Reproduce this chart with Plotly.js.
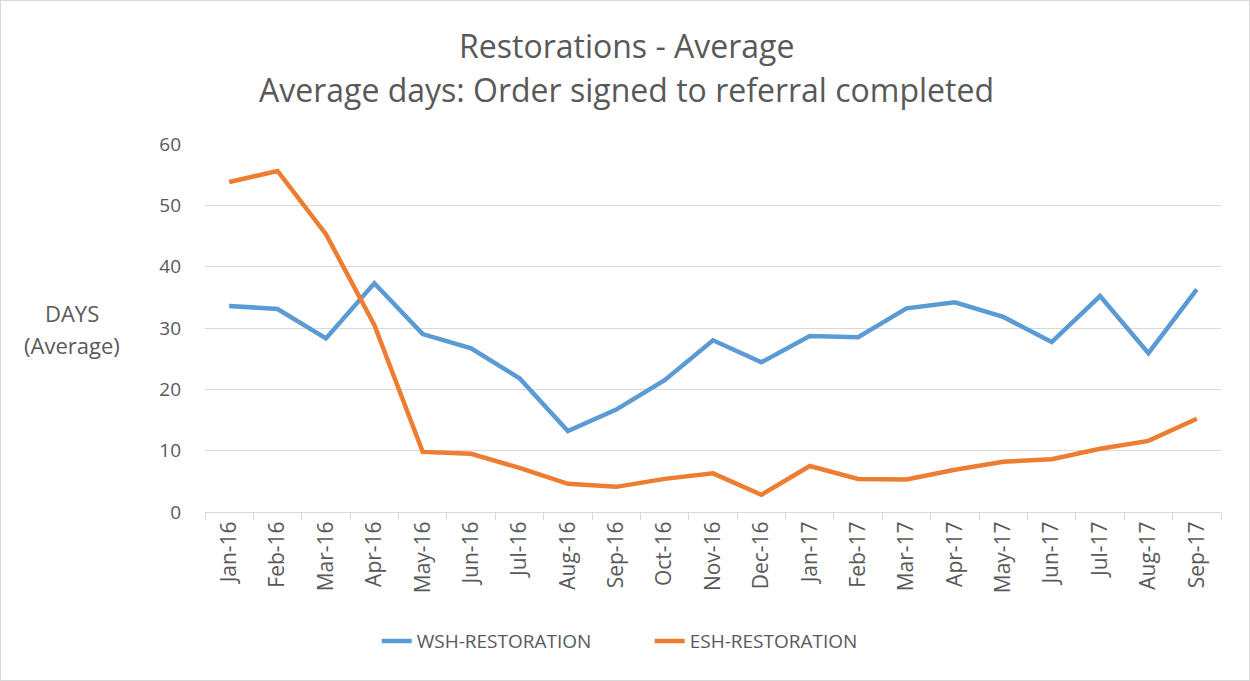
<!DOCTYPE html>
<html>
<head>
<meta charset="utf-8">
<script src="https://cdn.plot.ly/plotly-3.0.1.min.js"></script>
<style>
  html, body { margin: 0; padding: 0; background: #fff; }
  #chart { width: 1248px; height: 679px; border: 1px solid #d9d9d9; }
</style>
</head>
<body>
<div id="chart"></div>
<script>
const months = ["Jan-16","Feb-16","Mar-16","Apr-16","May-16","Jun-16","Jul-16","Aug-16","Sep-16","Oct-16","Nov-16","Dec-16",
                "Jan-17","Feb-17","Mar-17","Apr-17","May-17","Jun-17","Jul-17","Aug-17","Sep-17"];
const wshRestoration = [33.6,33.1,28.3,37.3,29.0,26.7,21.8,13.2,16.7,21.5,28.0,24.4,28.7,28.5,33.2,34.2,31.8,27.7,35.2,25.9,36.3];
const eshRestoration = [53.8,55.6,45.3,30.5,9.8,9.5,7.2,4.6,4.1,5.4,6.3,2.8,7.5,5.4,5.3,6.9,8.2,8.6,10.3,11.6,15.2];
const seriesNames = ["WSH-RESTORATION","ESH-RESTORATION"];
const titleLines = ["Restorations - Average","Average days: Order signed to referral completed"];
const yTitleLines = ["DAYS","(Average)"];

const FONT = "Open Sans, Calibri, sans-serif";
const TXT = "#595959";
const GRID = "#d9d9d9";

const traces = [
  {x: months, y: wshRestoration, name: seriesNames[0], type: "scatter", mode: "lines",
   line: {color: "#5B9BD5", width: 4.5, shape: "linear"}},
  {x: months, y: eshRestoration, name: seriesNames[1], type: "scatter", mode: "lines",
   line: {color: "#ED7D31", width: 4.5, shape: "linear"}}
];

const layout = {
  width: 1248, height: 679,
  margin: {l: 204, r: 28, t: 143, b: 168, pad: 0},
  paper_bgcolor: "#fff", plot_bgcolor: "#fff",
  font: {family: FONT, color: TXT, size: 16},
  xaxis: {type: "category", range: [-0.5, 20.5], tickangle: -90, tickson: "boundaries",
          ticks: "outside", ticklen: 7, tickcolor: GRID, tickwidth: 1,
          showline: true, linecolor: GRID, linewidth: 1, showgrid: false,
          tickfont: {family: FONT, size: 21, color: TXT}, fixedrange: true},
  yaxis: {range: [0, 60], dtick: 10, showgrid: true, gridcolor: GRID, gridwidth: 1,
          zeroline: false, showline: false, ticks: "", ticklabelstandoff: 23,
          tickfont: {family: FONT, size: 19, color: TXT}, fixedrange: true},
  showlegend: true,
  legend: {orientation: "h", x: 0.169, xanchor: "left", y: -0.351, yanchor: "middle",
           entrywidth: 228, entrywidthmode: "pixels",
           font: {family: FONT, size: 19, color: TXT}, tracegroupgap: 0},
  annotations: [
    {text: titleLines[0], xref: "paper", yref: "paper", x: 0.415, y: 1.269,
     xanchor: "center", yanchor: "middle", showarrow: false,
     font: {family: FONT, size: 32, color: TXT}},
    {text: titleLines[1], xref: "paper", yref: "paper", x: 0.415, y: 1.149,
     xanchor: "center", yanchor: "middle", showarrow: false,
     font: {family: FONT, size: 32, color: TXT}},
    {text: yTitleLines[0], xref: "paper", yref: "paper", x: -0.131, y: 0.541,
     xanchor: "center", yanchor: "middle", showarrow: false,
     font: {family: FONT, size: 22, color: TXT}},
    {text: yTitleLines[1], xref: "paper", yref: "paper", x: -0.131, y: 0.454,
     xanchor: "center", yanchor: "middle", showarrow: false,
     font: {family: FONT, size: 22, color: TXT}}
  ]
};

Plotly.newPlot("chart", traces, layout, {displayModeBar: false, staticPlot: true});
</script>
</body>
</html>
